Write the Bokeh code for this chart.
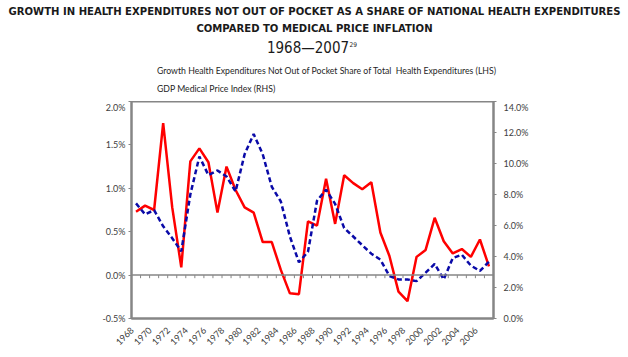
import math
from bokeh.plotting import figure
from bokeh.models import (Range1d, LinearAxis, FixedTicker, PrintfTickFormatter,
                          Label, Legend, LegendItem, Span)
from bokeh.embed import file_html
from bokeh.resources import INLINE

years = list(range(1968, 2008))
share_growth = [0.73, 0.80, 0.75, 1.75, 0.78, 0.09, 1.31, 1.46, 1.30, 0.72,
                1.25, 0.98, 0.78, 0.72, 0.38, 0.38, 0.06, -0.21, -0.22, 0.62,
                0.57, 1.11, 0.59, 1.15, 1.06, 0.99, 1.07, 0.49, 0.22, -0.19,
                -0.30, 0.21, 0.29, 0.66, 0.39, 0.25, 0.30, 0.21, 0.41, 0.10]
gdp_med_price = [7.43, 6.72, 6.99, 5.95, 5.18, 4.33, 8.0, 10.45, 9.25, 9.55,
                 9.16, 8.2, 10.6, 11.9, 10.6, 8.5, 7.55, 5.29, 3.63, 4.3,
                 7.6, 8.31, 7.39, 5.84, 5.29, 4.73, 4.18, 3.8, 2.74, 2.52,
                 2.52, 2.41, 2.96, 3.52, 2.52, 3.9, 4.11, 3.41, 3.07, 3.67]
left_ticks = [-0.5, 0.0, 0.5, 1.0, 1.5, 2.0]
right_ticks = [0, 2, 4, 6, 8, 10, 12, 14]
label_years = list(range(1968, 2007, 2))

title_1 = "GROWTH IN HEALTH EXPENDITURES NOT OUT OF POCKET AS A SHARE OF NATIONAL HEALTH EXPENDITURES"
title_2 = "COMPARED TO MEDICAL PRICE INFLATION"
title_3 = "1968\u20142007"
title_note = "29"
legend_1 = "Growth Health Expenditures Not Out of Pocket Share of Total  Health Expenditures (LHS)"
legend_2 = "GDP Medical Price Index (RHS)"

GREY = "#868686"
TXT = "#404040"
FONT = "Lato"
TFONT = "DejaVu Sans Condensed"
RED = "#FF0000"
BLUE = "#0A0AA8"

TOP_H = 101          # header figure height
MAIN_H = 357 - TOP_H # main figure (reserves ~6px above its frame for axis labels)
BOTTOM = 39

# ---------- header figure: titles + legend ----------
top = figure(width=628, height=TOP_H, output_backend="svg", toolbar_location=None,
             x_axis_type=None, y_axis_type=None, min_border=0,
             x_range=Range1d(0, 1), y_range=Range1d(0, 1))
top.outline_line_color = None
top.xgrid.visible = False
top.ygrid.visible = False
top.title = None

def lab(text, x, y, size, style="normal", align="center"):
    top.add_layout(Label(x=x, y=TOP_H - y, x_units="screen", y_units="screen", text=text,
                         text_align=align, text_baseline="middle",
                         text_font=TFONT, text_font_size=size,
                         text_font_style=style, text_color="#1a1a1a"))

lab(title_1, 314, 11, "11.2px", "bold")
lab(title_2, 314, 28, "11.2px", "bold")
lab(title_3, 307.5, 47.5, "15px")
lab(title_note, 349, 44, "6.5px", align="left")

s1 = top.line(x=[], y=[], line_color=RED, line_width=2.5)
s2 = top.line(x=[], y=[], line_color=BLUE, line_width=2.5, line_dash="5 3")
legend = Legend(items=[LegendItem(label=legend_1, renderers=[s1]),
                       LegendItem(label=legend_2, renderers=[s2])],
                location=(128, TOP_H - 94), orientation="vertical",
                border_line_color=None, background_fill_alpha=0,
                padding=0, margin=0, spacing=7,
                glyph_width=25, glyph_height=10, label_height=10,
                label_standoff=4,
                label_text_font=FONT, label_text_font_size="8.7px",
                label_text_color="#262626")
top.add_layout(legend, "center")

# ---------- main chart ----------
p = figure(width=628, height=MAIN_H, output_backend="svg", toolbar_location=None,
           x_range=Range1d(years[0] - 0.5, years[-1] + 0.5),
           y_range=Range1d(left_ticks[0], left_ticks[-1]),
           min_border_left=131, min_border_right=135,
           min_border_top=0, min_border_bottom=BOTTOM)
p.title = None
p.extra_y_ranges = {"rhs": Range1d(right_ticks[0], right_ticks[-1])}
p.xgrid.visible = False
p.ygrid.visible = False
p.outline_line_color = GREY
p.outline_line_width = 2

ya = p.yaxis[0]
ya.ticker = FixedTicker(ticks=left_ticks)
ya.formatter = PrintfTickFormatter(format="%.1f%%")
ya.axis_line_color = GREY
ya.axis_line_width = 2
ya.major_tick_line_color = GREY
ya.major_tick_in = 0
ya.major_tick_out = 3
ya.minor_tick_line_color = None
ya.major_label_standoff = 3
ya.major_label_text_font = FONT
ya.major_label_text_font_size = "9px"
ya.major_label_text_color = TXT

ra = LinearAxis(y_range_name="rhs", ticker=FixedTicker(ticks=right_ticks),
                formatter=PrintfTickFormatter(format="%.1f%%"))
ra.axis_line_color = GREY
ra.axis_line_width = 2
ra.major_tick_line_color = GREY
ra.major_tick_in = 0
ra.major_tick_out = 3
ra.minor_tick_line_color = None
ra.major_label_standoff = 7
ra.major_label_text_font = FONT
ra.major_label_text_font_size = "9px"
ra.major_label_text_color = TXT
p.add_layout(ra, "right")

# bottom labels: rotated text ends slightly left of each category centre (as in Excel)
LABEL_SHIFT = 0.45
label_pos = [y - LABEL_SHIFT for y in label_years]
xa = p.xaxis[0]
xa.ticker = FixedTicker(ticks=label_pos)
xa.major_label_overrides = {pos: str(y) for pos, y in zip(label_pos, label_years)}
xa.major_label_orientation = math.pi / 4
xa.axis_line_color = GREY
xa.axis_line_width = 2
xa.major_tick_line_color = None
xa.minor_tick_line_color = None
xa.major_label_standoff = 4
xa.major_label_text_font = FONT
xa.major_label_text_font_size = "9px"
xa.major_label_text_color = TXT

# zero line with category-boundary tick marks
p.add_layout(Span(location=0, dimension="width", line_color=GREY, line_width=1.5))
frame_h = 357 - 107 - BOTTOM
tick_len = 3 * (left_ticks[-1] - left_ticks[0]) / frame_h
boundaries = [y - 0.5 for y in years] + [years[-1] + 0.5]
p.segment(x0=boundaries, y0=[0] * len(boundaries), x1=boundaries,
          y1=[-tick_len] * len(boundaries), line_color=GREY, line_width=1)

p.line(years, share_growth, line_color=RED, line_width=2.5)
p.line(years, gdp_med_price, y_range_name="rhs", line_color=BLUE,
       line_width=2.5, line_dash="5 3")

open("out.html", "w").write(file_html([top, p], INLINE))
